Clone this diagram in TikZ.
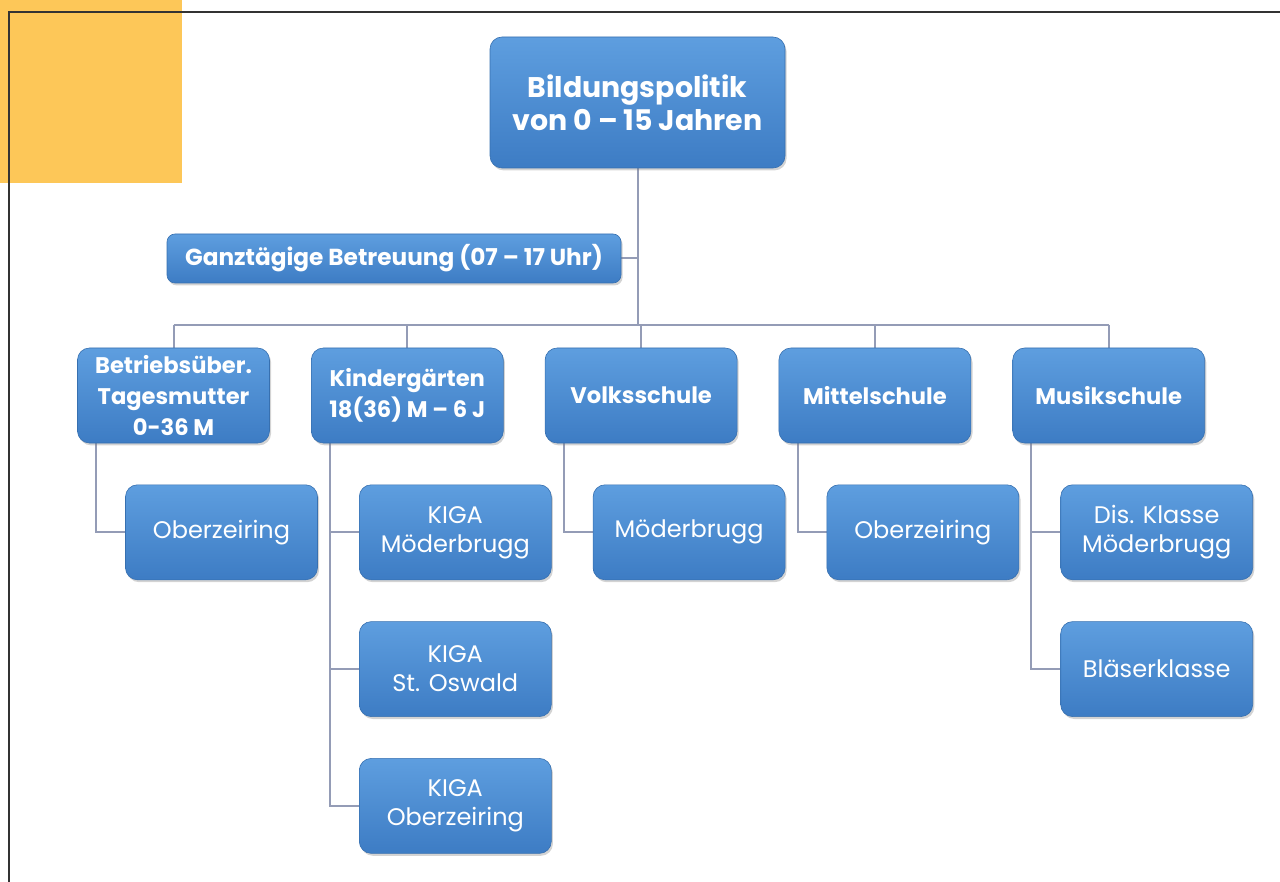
\documentclass[tikz,border=0pt]{standalone}
\usepackage{fontspec}
\setsansfont{Poppins}
\usepackage{tikz}
\usetikzlibrary{positioning, shadows, backgrounds}
\definecolor{BoxTop}{HTML}{5E9EDF}
\definecolor{BoxBottom}{HTML}{3D7CC4}
\definecolor{LinkGray}{HTML}{949CB6}
\definecolor{FrameOrange}{HTML}{FDC758}
\definecolor{FrameLine}{HTML}{333333}
\tikzset{
  % Box styles
  basebox/.style={rectangle, rounded corners=6pt, top color=BoxTop, bottom color=BoxBottom, draw=BoxBottom!90!black, line width=0.3pt, text=white, align=center, inner sep=2pt, drop shadow={shadow xshift=0.8pt, shadow yshift=-1.2pt, opacity=0.35}},
  headbox/.style={basebox, minimum width=147.5pt, minimum height=65.5pt, font=\sffamily\bfseries\fontsize{14.2}{16.5}\selectfont},
  bandbox/.style={basebox, rounded corners=4pt, minimum width=227pt, minimum height=24.5pt, font=\sffamily\bfseries\fontsize{11.6}{13}\selectfont},
  unitbox/.style={basebox, minimum width=96pt, minimum height=47.5pt, font=\sffamily\bfseries\fontsize{11.3}{15.3}\selectfont},
  sitebox/.style={basebox, minimum width=96pt, minimum height=47.5pt, font=\sffamily\fontsize{12}{14.5}\selectfont},
  % Line styles
  link/.style={draw=LinkGray, line width=1pt}
}
\begin{document}
\begin{tikzpicture}[x=0.5pt, y=-0.5pt, node distance=20.6pt]
  \useasboundingbox (0,0) rectangle (1280,882);

  % Top and band
  \node[headbox] (top) at (637.5,102.5) {Bildungspolitik\\von 0 – 15 Jahren};
  \node[bandbox] (ganz) at (394,258.5) {Ganztägige Betreuung (07 – 17 Uhr)};
  \coordinate (bar) at (637.5,325);

  % Units
  \node[unitbox] (tm) at (173.5,395.5) {Betriebsüber.\\Tagesmutter\\0-36 M};
  \node[unitbox, right=of tm] (kg) {Kindergärten\\18(36) M – 6 J};
  \node[unitbox, right=of kg] (vs) {Volksschule};
  \node[unitbox, right=of vs] (mi) {Mittelschule};
  \node[unitbox, right=of mi] (ms) {Musikschule};

  % Sites
  \node[sitebox, below=of tm, xshift=24pt] (tm1) {Oberzeiring};
  \node[sitebox, below=of kg, xshift=24pt] (kg1) {KIGA\\Möderbrugg};
  \node[sitebox, below=of kg1] (kg2) {KIGA\\St. Oswald};
  \node[sitebox, below=of kg2] (kg3) {KIGA\\Oberzeiring};
  \node[sitebox, below=of vs, xshift=24pt] (vs1) {Möderbrugg};
  \node[sitebox, below=of mi, xshift=24pt] (mi1) {Oberzeiring};
  \node[sitebox, below=of ms, xshift=24pt] (ms1) {Dis. Klasse\\Möderbrugg};
  \node[sitebox, below=of ms1] (ms2) {Bläserklasse};

  \begin{scope}[on background layer]
    % Page frame
    \fill[FrameOrange] (0,0) rectangle (182,183);
    \draw[FrameLine, line width=1pt] (9,882) -- (9,12) -- (1280,12);
    % Connectors
    \draw[link] (top.south) -- (bar);
    \draw[link] (ganz.east) -- (ganz.east -| bar);
    \draw[link] (bar -| tm.north) -- (bar -| ms.north);
    \foreach \u in {tm,kg,vs,mi,ms}
      \draw[link] (bar -| \u.north) -- (\u.north);
    \draw[link] ([xshift=9.5pt]tm.south west) |- (tm1.west);
    \draw[link] ([xshift=9.5pt]kg.south west) |- (kg3.west);
    \draw[link] ([xshift=9.5pt]kg.south west) |- (kg1.west);
    \draw[link] ([xshift=9.5pt]kg.south west) |- (kg2.west);
    \draw[link] ([xshift=9.5pt]vs.south west) |- (vs1.west);
    \draw[link] ([xshift=9.5pt]mi.south west) |- (mi1.west);
    \draw[link] ([xshift=9.5pt]ms.south west) |- (ms2.west);
    \draw[link] ([xshift=9.5pt]ms.south west) |- (ms1.west);
  \end{scope}
\end{tikzpicture}
\end{document}
